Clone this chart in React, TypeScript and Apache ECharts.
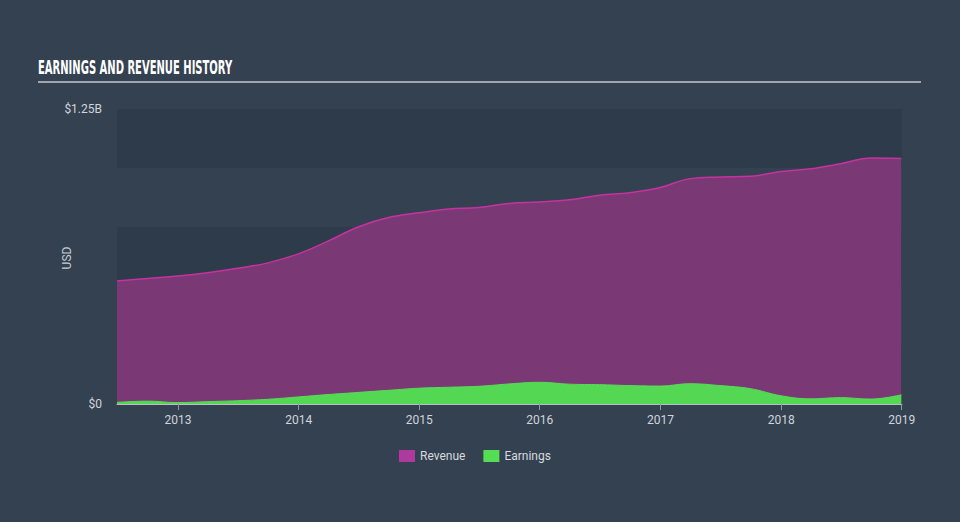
import React, { useEffect, useRef } from "react";
import * as echarts from "echarts";

const dates = [
  "2012-06-30", "2012-09-30", "2012-12-31", "2013-03-31", "2013-06-30", "2013-09-30", "2013-12-31",
  "2014-03-31", "2014-06-30", "2014-09-30", "2014-12-31", "2015-03-31", "2015-06-30", "2015-09-30",
  "2015-12-31", "2016-03-31", "2016-06-30", "2016-09-30", "2016-12-31", "2017-03-31", "2017-06-30",
  "2017-09-30", "2017-12-31", "2018-03-31", "2018-06-30", "2018-09-30", "2018-12-31",
];

// USD billions
const revenue = [
  0.521, 0.532, 0.542, 0.556, 0.575, 0.598, 0.636,
  0.69, 0.75, 0.79, 0.81, 0.826, 0.833, 0.85,
  0.856, 0.865, 0.885, 0.895, 0.917, 0.955, 0.962,
  0.965, 0.985, 0.997, 1.018, 1.042, 1.04,
];

const earnings = [
  0.007, 0.012, 0.006, 0.01, 0.014, 0.02, 0.03,
  0.04, 0.049, 0.058, 0.067, 0.071, 0.075, 0.085,
  0.092, 0.084, 0.082, 0.078, 0.076, 0.086, 0.078,
  0.065, 0.035, 0.022, 0.027, 0.021, 0.039,
];

const yTickLabels: Record<string, string> = { "0": "$0", "1250000000": "$1.25B" };

const xMin = "2012-06-30";
const xMax = "2019-01-02";

export default function App() {
  const ref = useRef<HTMLDivElement>(null);

  useEffect(() => {
    if (!ref.current) return;
    const chart = echarts.init(ref.current, null, { renderer: "svg" });
    const toPts = (vals: number[]) => dates.map((d, i) => [d, vals[i] * 1e9]);
    const year = 365.25 * 24 * 3600 * 1000;
    chart.setOption({
      animation: false,
      backgroundColor: "#344151",
      graphic: [
        {
          type: "text",
          x: 38,
          y: 57,
          scaleX: 0.5,
          style: {
            text: "EARNINGS AND REVENUE HISTORY",
            fill: "#ffffff",
            font: "bold 20px 'DejaVu Sans', sans-serif",
            textVerticalAlign: "top",
          },
        },
        {
          type: "line",
          shape: { x1: 38, y1: 82, x2: 921, y2: 82 },
          style: { stroke: "#c4c9cf", lineWidth: 1.5 },
        },
        {
          type: "text",
          x: 67,
          y: 258,
          rotation: Math.PI / 2,
          style: {
            text: "USD",
            fill: "#c6ccd2",
            font: "12px Roboto, sans-serif",
            textAlign: "center",
            textVerticalAlign: "middle",
          },
        },
      ],
      legend: {
        top: 450,
        left: 399,
        padding: 0,
        icon: "rect",
        itemWidth: 16,
        itemHeight: 12,
        itemGap: 18,
        textStyle: { color: "#d6dade", fontSize: 12, fontFamily: "Roboto, sans-serif" },
        data: [
          { name: "Revenue", itemStyle: { color: "#ad3a9c" } },
          { name: "Earnings", itemStyle: { color: "#55dd55" } },
        ],
      },
      grid: { left: 117, right: 58, top: 109, bottom: 118 },
      xAxis: {
        type: "time",
        min: xMin,
        max: xMax,
        minInterval: year * 0.98,
        maxInterval: year * 1.02,
        splitLine: { show: false },
        axisLine: { show: true, lineStyle: { color: "#b7bec6", width: 1 } },
        axisTick: { show: true, length: 6, lineStyle: { color: "#8f99a4" } },
        axisLabel: {
          color: "#d0d5da",
          fontSize: 12,
          fontFamily: "Roboto, sans-serif",
          margin: 10,
          formatter: (v: number) => String(new Date(v).getFullYear()),
          hideOverlap: true,
        },
      },
      yAxis: {
        type: "value",
        min: 0,
        max: 1.25e9,
        interval: 0.25e9,
        axisLine: { show: false },
        axisTick: { show: false },
        splitLine: { show: false },
        splitArea: { show: true, areaStyle: { color: ["#2e3b4a", "rgba(0,0,0,0)"] } },
        axisLabel: {
          color: "#d0d5da",
          fontSize: 12,
          fontFamily: "Roboto, sans-serif",
          margin: 15,
          formatter: (v: number) => yTickLabels[String(Math.round(v))] ?? "",
        },
      },
      series: [
        {
          name: "Revenue",
          type: "line",
          smooth: 0.4,
          showSymbol: false,
          data: toPts(revenue),
          itemStyle: { color: "#ad3a9c" },
          lineStyle: { color: "#c5339f", width: 1.5 },
          areaStyle: { color: "#7a3874", opacity: 1 },
          z: 2,
        },
        {
          name: "Earnings",
          type: "line",
          smooth: 0.4,
          showSymbol: false,
          data: toPts(earnings),
          itemStyle: { color: "#55dd55" },
          lineStyle: { color: "#55dd55", width: 1 },
          areaStyle: { color: "#54d854", opacity: 1 },
          z: 3,
        },
      ],
    });
    return () => chart.dispose();
  }, []);

  return (
    <div
      ref={ref}
      style={{ position: "fixed", left: 0, top: 0, width: 960, height: 522 }}
    />
  );
}
